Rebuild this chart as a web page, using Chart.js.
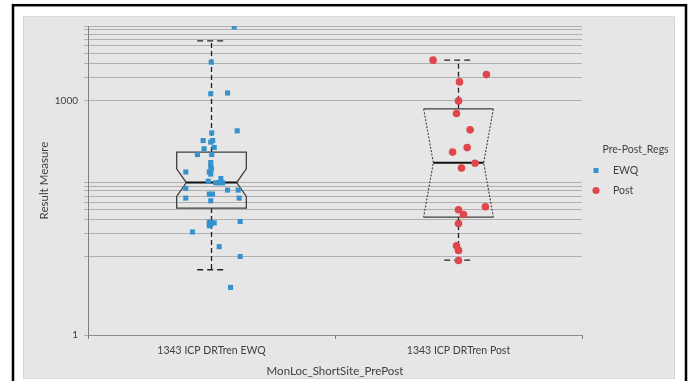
<!DOCTYPE html>
<html><head><meta charset="utf-8">
<script src="https://cdn.jsdelivr.net/npm/chart.js@4/dist/chart.umd.min.js"></script>
<style>html,body{margin:0;padding:0;background:#fff;overflow:hidden}</style>
</head><body>
<canvas id="c" width="691" height="381"></canvas>
<script>
// ---- data ----
const categories = ['1343 ICP DRTren EWQ', '1343 ICP DRTren Post'];
const seriesNames = ['EWQ', 'Post'];
const ewqValues = [8760, 3100, 1220, 1250, 410, 386, 308, 308, 294, 241, 251, 204, 204, 161, 143, 133, 122, 122, 114.6, 100.6, 93, 88.7, 88.7, 88.7, 71.5, 71.5, 75, 63.6, 63.6, 52.2, 56.5, 56.5, 27.7, 27.7, 27.2, 25, 25.7, 28.4, 20.8, 13.5, 10.1, 4.06];
const ewqJitter = [0.092, -0.001, -0.003, 0.065, 0.104, 0.001, -0.034, 0.005, -0.003, -0.030, 0.011, -0.057, 0.001, -0.003, -0.003, 0, -0.104, -0.009, -0.003, 0.038, -0.013, 0.017, 0.031, 0.045, 0.065, 0.108, -0.104, -0.009, 0.004, -0.003, -0.104, 0.112, -0.009, -0.003, 0.011, -0.009, -0.003, 0.116, -0.077, 0.031, 0.116, 0.077];
const postValues = [3290, 2150, 1734, 991, 682, 422, 250, 219, 158, 137, 43.7, 40, 34.8, 26.7, 13.9, 12.1, 9.0];
const postJitter = [-0.103, 0.113, 0.004, 0, -0.008, 0.047, 0.035, -0.024, 0.067, 0.012, 0.109, 0, 0.020, 0, -0.008, 0, 0];
const q1 = [42.1, 32.3];
const median = [89.4, 160];
const q3 = [219, 783];
const notchLow = [59.2, 32.3];
const notchHigh = [134, 783];
const whiskerLow = [6.84, 9.1];
const whiskerHigh = [5800, 3290];
const yTickValues = [1, 10, 20, 30, 40, 50, 60, 70, 80, 90, 1000, 2000, 3000, 4000, 5000, 6000, 7000, 8000, 9000];
const yTickLabels = {1: '1', 1000: '1000'};
const yMin = 1, yMax = 9000;

// ---- styles ----
const FONT = 'Lato, "Liberation Sans", sans-serif';
const TEXT = '#404040';
const BLUE = '#3592cf';
const RED = '#e0474c';
const BOX_HALF = 0.141, NOTCH_HALF = 0.102, CAP_HALF = 0.058;

const frame = {
  id: 'frame',
  beforeDraw(chart) {
    const ctx = chart.ctx;
    ctx.save();
    ctx.fillStyle = '#ffffff';
    ctx.fillRect(0, 0, chart.width, chart.height);
    ctx.strokeStyle = '#000';
    ctx.lineWidth = 2.5;
    ctx.strokeRect(13, 5.2, 673, 400);
    ctx.fillStyle = '#e6e6e6';
    ctx.fillRect(23, 16, 652, 363);
    ctx.strokeStyle = '#d8d8d8';
    ctx.lineWidth = 1;
    ctx.strokeRect(23.5, 16.5, 651, 362);
    ctx.restore();
  }
};

const boxes = {
  id: 'boxes',
  beforeDatasetsDraw(chart) {
    const ctx = chart.ctx, xs = chart.scales.xj, ys = chart.scales.y;
    ctx.save();
    for (let i = 0; i < categories.length; i++) {
      const c = i + 1;
      const X = d => xs.getPixelForValue(c + d);
      const Y = v => ys.getPixelForValue(v);
      // whiskers
      ctx.strokeStyle = '#222';
      ctx.lineWidth = 1.3;
      ctx.setLineDash([5, 3]);
      ctx.beginPath();
      ctx.moveTo(X(0), Y(q3[i])); ctx.lineTo(X(0), Y(whiskerHigh[i]));
      ctx.moveTo(X(0), Y(q1[i])); ctx.lineTo(X(0), Y(whiskerLow[i]));
      ctx.stroke();
      ctx.setLineDash([6, 4]);
      ctx.beginPath();
      ctx.moveTo(X(-CAP_HALF), Y(whiskerHigh[i])); ctx.lineTo(X(CAP_HALF), Y(whiskerHigh[i]));
      ctx.moveTo(X(-CAP_HALF), Y(whiskerLow[i])); ctx.lineTo(X(CAP_HALF), Y(whiskerLow[i]));
      ctx.stroke();
      ctx.setLineDash([]);
      // box
      ctx.strokeStyle = '#404040';
      ctx.lineWidth = 1.3;
      const inside = notchLow[i] > q1[i] && notchHigh[i] < q3[i];
      if (inside) {
        ctx.beginPath();
        ctx.moveTo(X(-BOX_HALF), Y(q3[i]));
        ctx.lineTo(X(BOX_HALF), Y(q3[i]));
        ctx.lineTo(X(BOX_HALF), Y(notchHigh[i]));
        ctx.lineTo(X(NOTCH_HALF), Y(median[i]));
        ctx.lineTo(X(BOX_HALF), Y(notchLow[i]));
        ctx.lineTo(X(BOX_HALF), Y(q1[i]));
        ctx.lineTo(X(-BOX_HALF), Y(q1[i]));
        ctx.lineTo(X(-BOX_HALF), Y(notchLow[i]));
        ctx.lineTo(X(-NOTCH_HALF), Y(median[i]));
        ctx.lineTo(X(-BOX_HALF), Y(notchHigh[i]));
        ctx.closePath();
        ctx.stroke();
      } else {
        ctx.beginPath();
        ctx.moveTo(X(-BOX_HALF), Y(q3[i])); ctx.lineTo(X(BOX_HALF), Y(q3[i]));
        ctx.moveTo(X(-BOX_HALF), Y(q1[i])); ctx.lineTo(X(BOX_HALF), Y(q1[i]));
        ctx.stroke();
        ctx.setLineDash([2, 1.5]);
        ctx.lineWidth = 1.1;
        ctx.beginPath();
        [-1, 1].forEach(s => {
          ctx.moveTo(X(s * BOX_HALF), Y(q3[i]));
          ctx.lineTo(X(s * NOTCH_HALF), Y(median[i]));
          ctx.lineTo(X(s * BOX_HALF), Y(q1[i]));
        });
        ctx.stroke();
        ctx.setLineDash([]);
      }
      // median
      ctx.strokeStyle = '#111';
      ctx.lineWidth = 2.2;
      ctx.beginPath();
      ctx.moveTo(X(-NOTCH_HALF), Y(median[i])); ctx.lineTo(X(NOTCH_HALF), Y(median[i]));
      ctx.stroke();
    }
    ctx.restore();
  }
};

const legendBox = {
  id: 'legendBox',
  afterDraw(chart) {
    const ctx = chart.ctx;
    const x0 = chart.chartArea.right + 14;
    ctx.save();
    ctx.fillStyle = TEXT;
    ctx.font = '10.5px ' + FONT;
    ctx.textBaseline = 'middle';
    ctx.textAlign = 'left';
    ctx.fillText('Pre-Post_Regs', x0 + 6.5, 149.5);
    chart.data.datasets.forEach((ds, k) => {
      const y = 170.5 + k * 20;
      ctx.fillStyle = ds.backgroundColor;
      if (ds.pointStyle === 'rect') {
        ctx.fillRect(x0 - 2.5, y - 2.5, 5, 5);
      } else {
        ctx.beginPath(); ctx.arc(x0, y, 3.6, 0, Math.PI * 2); ctx.fill();
      }
      ctx.fillStyle = TEXT;
      ctx.fillText(ds.label, x0 + 17, y);
    });
    ctx.restore();
  }
};

const toPoints = (vals, jit, c) => vals.map((v, k) => ({x: c + jit[k], y: v}));

new Chart(document.getElementById('c'), {
  type: 'scatter',
  data: {
    datasets: [
      {label: seriesNames[0], data: toPoints(ewqValues, ewqJitter, 1), xAxisID: 'xj', yAxisID: 'y',
       pointStyle: 'rect', pointRadius: 3.6, backgroundColor: BLUE, borderColor: BLUE, borderWidth: 0},
      {label: seriesNames[1], data: toPoints(postValues, postJitter, 2), xAxisID: 'xj', yAxisID: 'y',
       pointStyle: 'circle', pointRadius: 3.8, backgroundColor: RED, borderColor: RED, borderWidth: 0}
    ]
  },
  options: {
    responsive: false,
    animation: false,
    devicePixelRatio: 1,
    layout: {padding: {left: 30, right: 109, top: 26, bottom: 0}},
    plugins: {legend: {display: false}, tooltip: {enabled: false}},
    scales: {
      x: {
        type: 'category', labels: categories, position: 'bottom', offset: true,
        afterFit: s => { s.height = 46; },
        grid: {offset: true, drawOnChartArea: false, tickLength: 4, color: '#7f7f7f'},
        border: {color: '#8c8c8c', width: 1},
        ticks: {color: TEXT, font: {family: FONT, size: 10.5}, padding: 5, maxRotation: 0},
        title: {display: true, text: 'MonLoc_ShortSite_PrePost', color: TEXT, font: {family: FONT, size: 11.5}, padding: {top: 0, bottom: 3}}
      },
      xj: {type: 'linear', display: false, min: 0.5, max: 2.5},
      y: {
        type: 'logarithmic', min: yMin, max: yMax,
        afterFit: s => { s.width = 58; },
        afterBuildTicks: s => { s.ticks = yTickValues.map(v => ({value: v})); },
        grid: {color: '#b0b0b0', tickLength: 4, lineWidth: 1},
        border: {color: '#7f7f7f', width: 1},
        ticks: {color: TEXT, font: {family: FONT, size: 10}, padding: 6, autoSkip: false,
                callback: v => yTickLabels[v] || ''},
        title: {display: true, text: 'Result Measure', color: TEXT, font: {family: FONT, size: 11.5}, padding: {top: 7, bottom: 0}}
      }
    }
  },
  plugins: [frame, boxes, legendBox]
});
</script>
</body></html>
